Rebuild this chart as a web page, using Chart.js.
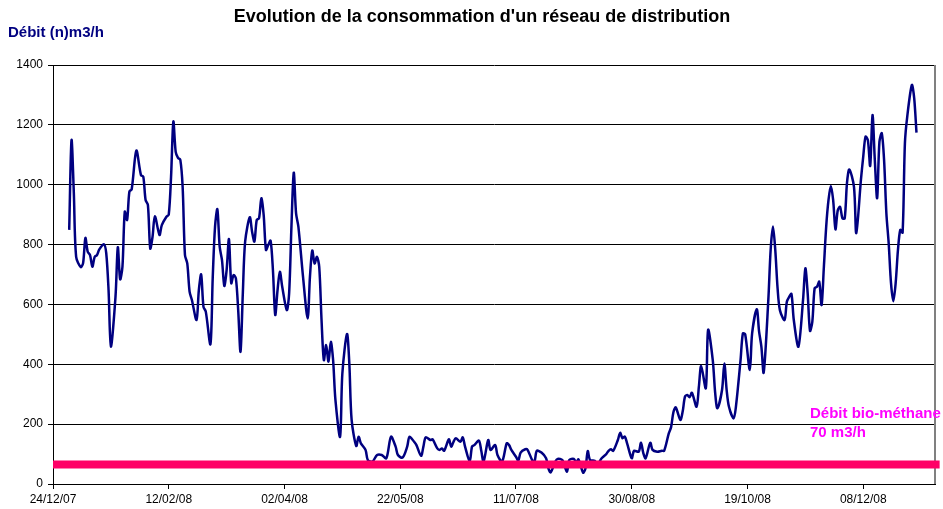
<!DOCTYPE html>
<html lang="fr">
<head>
  <meta charset="UTF-8">
  <title>Evolution de la consommation d'un réseau de distribution</title>
  <script src="https://cdn.jsdelivr.net/npm/chart.js"></script>
  <style>
    html, body {
      margin: 0;
      padding: 0;
      background: #fff;
      overflow: hidden;
    }
    .wrap {
      position: relative;
      width: 943px;
      height: 509px;
      font-family: "Liberation Sans", Arial, sans-serif;
    }
    .title {
      position: absolute;
      top: 7px;
      left: 482px;
      transform: translateX(-50%);
      white-space: nowrap;
      font-weight: bold;
      font-size: 18px;
      line-height: 18px;
      color: #000;
    }
    .ytitle {
      position: absolute;
      top: 24px;
      left: 8px;
      font-weight: bold;
      font-size: 15px;
      line-height: 15px;
      color: #000080;
    }
    .note {
      position: absolute;
      top: 403px;
      left: 810px;
      white-space: nowrap;
      font-weight: bold;
      font-size: 15px;
      line-height: 19px;
      color: #ff00ff;
    }
    canvas {
      position: absolute;
      top: 0;
      left: 0;
    }
  </style>
</head>
<body>
  <div class="wrap">
    <canvas id="debitChart" width="943" height="509"></canvas>
    <div class="title">Evolution de la consommation d'un réseau de distribution</div>
    <div class="ytitle">Débit (n)m3/h</div>
    <div class="note">Débit bio-méthane<br>70 m3/h</div>
  </div>

  <script>
    // jours comptés depuis le 24/12/07
    const DAYS = [
      7, 8, 9, 10, 12, 13, 14, 15, 16, 17, 18, 19, 20, 22, 23, 24, 25, 27, 28, 29,
      30, 31, 32, 33, 34, 36, 38, 39, 40, 41, 42, 43, 44, 46, 47, 49, 50, 51, 52, 53,
      54, 55, 56, 57, 58, 59, 60, 62, 63, 64, 65, 66, 68, 69, 70, 71, 72, 73, 74, 75,
      76, 77, 78, 79, 80, 81, 82, 83, 85, 86, 87, 88, 89, 90, 91, 92, 93, 94, 95, 96,
      97, 98, 99, 101, 102, 103, 104, 105, 106, 108, 110, 111, 112, 113, 114, 115, 116, 117, 118, 119,
      120, 121, 122, 124, 125, 127, 128, 129, 131, 132, 133, 135, 136, 138, 140, 142, 144, 146, 148, 149,
      151, 153, 154, 156, 157, 159, 160, 161, 163, 164, 166, 167, 168, 169, 171, 172, 173, 174, 176, 177,
      178, 180, 181, 182, 184, 185, 186, 188, 189, 191, 192, 194, 196, 197, 198, 200, 201, 202, 204, 205,
      207, 208, 209, 211, 213, 214, 215, 217, 218, 220, 222, 223, 225, 226, 227, 229, 230, 231, 232, 234,
      235, 237, 239, 240, 241, 242, 244, 245, 246, 247, 248, 250, 251, 253, 254, 255, 256, 258, 259, 261,
      263, 264, 266, 267, 268, 269, 271, 272, 273, 274, 275, 276, 278, 279, 280, 282, 283, 285, 286, 287,
      289, 290, 291, 292, 294, 295, 297, 298, 299, 301, 302, 304, 305, 306, 307, 309, 310, 311, 312, 313,
      314, 316, 317, 318, 319, 320, 322, 324, 325, 326, 327, 328, 329, 330, 331, 332, 333, 334, 335, 336,
      337, 338, 339, 340, 341, 342, 343, 344, 346, 347, 349, 350, 351, 352, 353, 354, 355, 356, 357, 358,
      359, 360, 361, 362, 363, 364, 365, 366, 367, 368, 369, 371, 372, 373
    ];

    // débit mesuré, (n)m3/h
    const DEBIT = [
      849, 1149, 972, 759, 725, 738, 822, 776, 765, 726, 759, 765, 784, 801, 771, 648, 459, 626, 791, 684,
      726, 910, 882, 977, 985, 1114, 1032, 1027, 949, 932, 787, 826, 895, 832, 865, 893, 900, 1027, 1211, 1110,
      1090, 1083, 993, 765, 737, 643, 615, 548, 648, 700, 592, 576, 467, 690, 860, 918, 793, 748, 662, 715,
      818, 671, 698, 687, 581, 442, 637, 810, 891, 843, 810, 882, 888, 955, 899, 782, 799, 813, 715, 565,
      648, 709, 660, 581, 637, 860, 1040, 904, 860, 693, 553, 693, 780, 737, 759, 726, 548, 414, 464, 409,
      475, 414, 281, 158, 370, 501, 403, 214, 127, 158, 136, 114, 80, 75, 97, 97, 86, 158, 125, 97,
      88, 125, 158, 141, 130, 94, 125, 156, 147, 149, 119, 114, 119, 111, 149, 125, 141, 153, 141, 156,
      125, 75, 125, 130, 145, 111, 75, 147, 114, 130, 97, 75, 136, 130, 114, 91, 78, 105, 116, 114,
      80, 75, 111, 105, 86, 52, 39, 75, 84, 80, 41, 80, 84, 71, 82, 38, 52, 110, 80, 78,
      63, 86, 100, 111, 116, 111, 147, 171, 153, 158, 136, 86, 111, 108, 138, 103, 86, 138, 114, 108,
      111, 111, 169, 190, 240, 256, 214, 242, 292, 297, 290, 305, 258, 325, 394, 320, 515, 414, 308, 253,
      314, 403, 314, 258, 219, 258, 414, 503, 500, 381, 503, 584, 510, 459, 372, 615, 782, 860, 782, 654,
      581, 548, 609, 625, 635, 548, 459, 615, 721, 637, 512, 542, 654, 659, 676, 598, 726, 860, 949, 996,
      949, 851, 915, 926, 888, 888, 1008, 1051, 993, 838, 1016, 1094, 1161, 1149, 1063, 1233, 1083, 955, 1144, 1172,
      1083, 904, 804, 671, 611, 671, 782, 849, 840, 1138, 1227, 1333, 1290, 1174
    ];

    const TICK_DAYS = [0, 50, 100, 150, 200, 250, 300, 350];
    const TICK_LABELS = ['24/12/07', '12/02/08', '02/04/08', '22/05/08', '11/07/08', '30/08/08', '19/10/08', '08/12/08'];

    // seuil bio-méthane
    const BIO_LEVEL = 65;
    const BIO_SPAN = [0, 383];

    const tickFont = { family: 'Liberation Sans', size: 12 };

    // bordure droite grise de la zone de tracé
    const plotFrame = {
      id: 'plotFrame',
      beforeDatasetsDraw(chart) {
        const a = chart.chartArea;
        const ctx = chart.ctx;
        ctx.save();
        ctx.strokeStyle = '#808080';
        ctx.lineWidth = 2;
        ctx.beginPath();
        ctx.moveTo(a.right, a.top);
        ctx.lineTo(a.right, a.bottom);
        ctx.stroke();
        ctx.restore();
      }
    };

    new Chart(document.getElementById('debitChart'), {
      type: 'line',
      data: {
        datasets: [
          {
            label: 'Débit bio-méthane',
            data: BIO_SPAN.map(d => ({ x: d, y: BIO_LEVEL })),
            borderColor: '#ff0066',
            borderWidth: 8,
            borderCapStyle: 'butt',
            pointRadius: 0,
            tension: 0,
            clip: false,
            order: 0
          },
          {
            label: 'Débit',
            data: DAYS.map((d, i) => ({ x: d, y: DEBIT[i] })),
            borderColor: '#000080',
            borderWidth: 2.5,
            pointRadius: 0,
            tension: 0.3,
            order: 1
          }
        ]
      },
      options: {
        responsive: false,
        animation: false,
        devicePixelRatio: 1,
        layout: { padding: { top: 65, right: 8, left: 0, bottom: 0 } },
        plugins: {
          legend: { display: false },
          tooltip: { enabled: false }
        },
        scales: {
          x: {
            type: 'linear',
            min: 0,
            max: 381,
            afterBuildTicks: s => { s.ticks = TICK_DAYS.map(v => ({ value: v })); },
            afterFit: s => { s.height = 25; },
            grid: { drawOnChartArea: false, drawTicks: true, tickLength: 5, color: '#000' },
            border: { color: '#000', width: 1 },
            ticks: {
              autoSkip: false,
              maxRotation: 0,
              padding: 3,
              color: '#000',
              font: tickFont,
              callback: (v, i) => TICK_LABELS[i]
            }
          },
          y: {
            min: 0,
            max: 1400,
            afterFit: s => { s.width = 53; },
            grid: { color: '#000', lineWidth: 1, tickLength: 5 },
            border: { color: '#000', width: 1 },
            ticks: { stepSize: 200, padding: 5, color: '#000', font: tickFont, callback: v => String(v) }
          }
        }
      },
      plugins: [plotFrame]
    });
  </script>
</body>
</html>
